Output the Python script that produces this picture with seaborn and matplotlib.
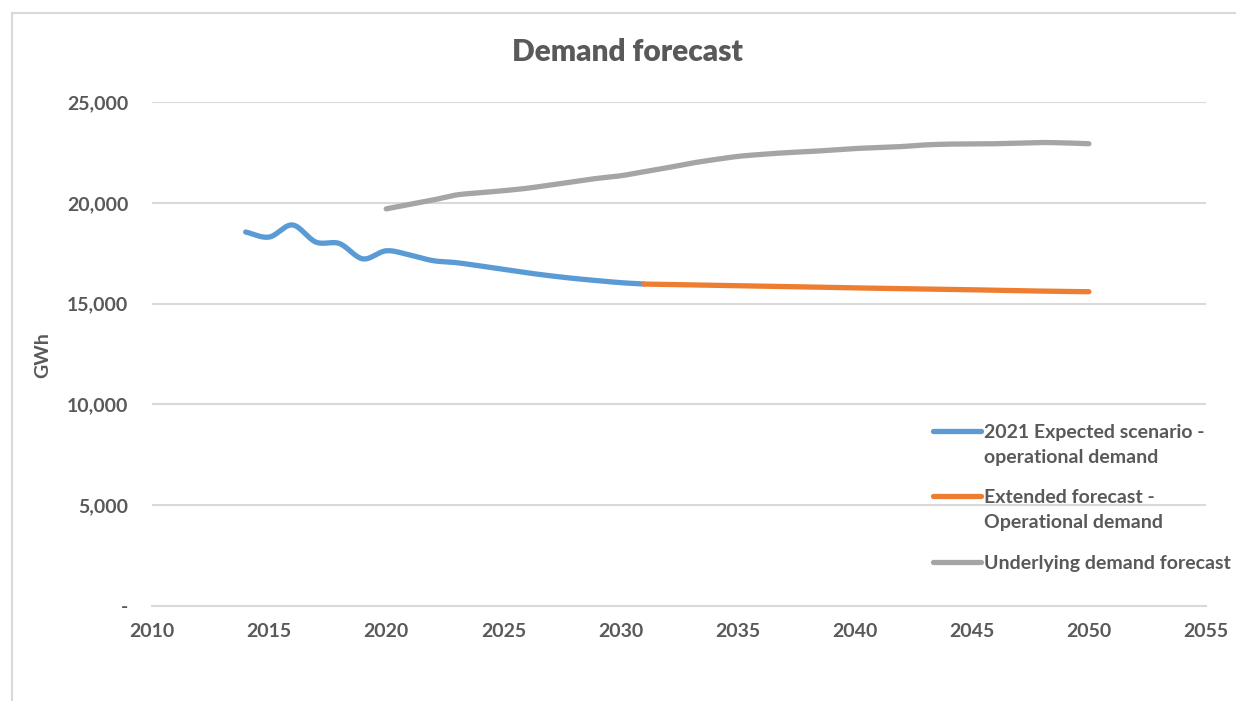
import numpy as np
import pandas as pd
import matplotlib
matplotlib.use("Agg")
import matplotlib.pyplot as plt
from matplotlib.lines import Line2D
import seaborn as sns

# ---- data (GWh per year) ----
expected_years = list(range(2014, 2032))
expected_gwh = [18550, 18300, 18900, 18050, 17980, 17220, 17620, 17410, 17130,
                17030, 16870, 16700, 16530, 16380, 16250, 16140, 16040, 15970]

extended_years = list(range(2031, 2051))
extended_gwh = [15970, 15950, 15930, 15910, 15890, 15870, 15845, 15825, 15800,
                15780, 15760, 15740, 15720, 15700, 15685, 15665, 15640, 15620,
                15600, 15590]

underlying_years = list(range(2020, 2051))
underlying_gwh = [19700, 19920, 20140, 20390, 20500, 20600, 20720, 20880, 21050,
                  21210, 21340, 21540, 21740, 21960, 22140, 22300, 22400, 22480,
                  22540, 22610, 22690, 22740, 22790, 22870, 22910, 22920, 22930,
                  22960, 22990, 22970, 22930]

series_labels = ["2021 Expected scenario -\noperational demand",
                 "Extended forecast -\nOperational demand",
                 "Underlying demand forecast"]
series_colors = ["#5B9BD5", "#ED7D31", "#A5A5A5"]

x_ticks = list(range(2010, 2056, 5))
y_ticks = [0, 5000, 10000, 15000, 20000, 25000]
y_tick_labels = ["-", "5,000", "10,000", "15,000", "20,000", "25,000"]


def smoothed(xs, ys, steps=16):
    """Catmull-Rom curve through the points (spreadsheet-style smoothed line)."""
    p = np.column_stack([xs, ys]).astype(float)
    if len(p) < 3:
        return p[:, 0], p[:, 1]
    ext = np.vstack([2 * p[0] - p[1], p, 2 * p[-1] - p[-2]])
    out = []
    t = np.linspace(0, 1, steps, endpoint=False)[:, None]
    for i in range(1, len(ext) - 2):
        p0, p1, p2, p3 = ext[i - 1], ext[i], ext[i + 1], ext[i + 2]
        seg = 0.5 * ((2 * p1) + (-p0 + p2) * t +
                     (2 * p0 - 5 * p1 + 4 * p2 - p3) * t ** 2 +
                     (-p0 + 3 * p1 - 3 * p2 + p3) * t ** 3)
        out.append(seg)
    out.append(p[-1][None, :])
    out = np.vstack(out)
    return out[:, 0], out[:, 1]


sns.set_theme(style="white")
plt.rcParams["font.family"] = ["Lato", "DejaVu Sans"]

W, H = 1236, 701
fig = plt.figure(figsize=(W / 100, H / 100), dpi=100)
ax = fig.add_axes([152 / W, (H - 606) / H, (1206 - 152) / W, (606 - 102) / H])

text_color = "#595959"
grid_color = "#D9D9D9"
label_size = 14

for xs, ys, col in [(expected_years, expected_gwh, series_colors[0]),
                    (extended_years, extended_gwh, series_colors[1]),
                    (underlying_years, underlying_gwh, series_colors[2])]:
    sx, sy = smoothed(xs, ys)
    df = pd.DataFrame({"year": sx, "gwh": sy})
    sns.lineplot(data=df, x="year", y="gwh", ax=ax, color=col, linewidth=3.8,
                 sort=False, estimator=None, solid_capstyle="round",
                 solid_joinstyle="round")

ax.set_xlim(2010, 2055)
ax.set_ylim(0, 25000)
ax.set_xticks(x_ticks)
ax.set_yticks(y_ticks)
ax.set_yticklabels(y_tick_labels)
ax.set_xlabel("")
ax.set_ylabel("")
ax.grid(axis="y", color=grid_color, linewidth=1.5)
ax.grid(axis="x", visible=False)
ax.set_axisbelow(True)
for s in ["top", "right", "left"]:
    ax.spines[s].set_visible(False)
ax.spines["bottom"].set_color(grid_color)
ax.spines["bottom"].set_linewidth(1.5)
ax.tick_params(axis="both", length=0, labelsize=label_size, labelcolor=text_color)
ax.tick_params(axis="y", pad=17)
ax.tick_params(axis="x", pad=12)
for lbl in ax.get_xticklabels() + ax.get_yticklabels():
    lbl.set_fontweight("bold")

# title and axis title
fig.text(627 / W, (H - 52) / H, "Demand forecast", ha="center", va="center",
         fontsize=21.5, fontweight="heavy", color=text_color)
fig.text(43 / W, (H - 355) / H, "GWh", ha="center", va="center", rotation=90,
         fontsize=label_size, fontweight="bold", color=text_color)

# legend: handle aligned with the first line of each entry
legend_rows = [431, 496, 562]
for row, lab, col in zip(legend_rows, series_labels, series_colors):
    yf = (H - row) / H
    fig.add_artist(Line2D([933 / W, 981 / W], [yf, yf], color=col,
                          linewidth=3.8, solid_capstyle="round",
                          transform=fig.transFigure))
    fig.text(984 / W, (H - row + 7) / H, lab, ha="left", va="top",
             fontsize=label_size, fontweight="bold", color=text_color,
             linespacing=1.55, transform=fig.transFigure)

# chart frame (top and left edges)
fig.add_artist(Line2D([12 / W, 1.0], [(H - 13) / H, (H - 13) / H],
                      color=grid_color, linewidth=1.5, transform=fig.transFigure))
fig.add_artist(Line2D([12 / W, 12 / W], [0, (H - 13) / H],
                      color=grid_color, linewidth=1.5, transform=fig.transFigure))

fig.savefig("out.png", dpi=100)
